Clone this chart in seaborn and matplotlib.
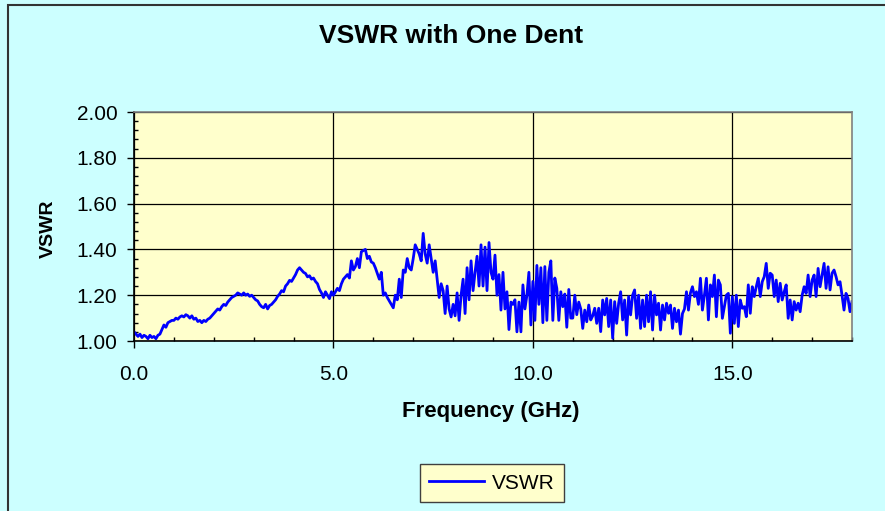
import numpy as np
import matplotlib
matplotlib.use("Agg")
import matplotlib.pyplot as plt
import seaborn as sns
from matplotlib.patches import Rectangle
from matplotlib.ticker import MultipleLocator, FormatStrFormatter

# VSWR, 0.05 GHz steps, one row per GHz
vswr_0_3 = [
    1.04, 1.03, 1.02, 1.03, 1.015, 1.025, 1.02, 1.01, 1.025, 1.015, 1.02, 1.01, 1.025, 1.03, 1.05, 1.07, 1.06, 1.08, 1.085, 1.09,
    1.09, 1.10, 1.095, 1.105, 1.11, 1.105, 1.115, 1.11, 1.10, 1.11, 1.095, 1.10, 1.085, 1.09, 1.08, 1.09, 1.085, 1.095, 1.10, 1.11,
    1.12, 1.13, 1.14, 1.135, 1.15, 1.16, 1.155, 1.17, 1.18, 1.19, 1.195, 1.20, 1.21, 1.205, 1.20, 1.21, 1.20, 1.205, 1.195, 1.20,
]
vswr_3_6 = [
    1.19, 1.18, 1.175, 1.16, 1.15, 1.145, 1.16, 1.14, 1.155, 1.16, 1.17, 1.18, 1.195, 1.205, 1.22, 1.215, 1.24, 1.25, 1.265, 1.26,
    1.275, 1.29, 1.31, 1.32, 1.31, 1.30, 1.295, 1.28, 1.285, 1.27, 1.275, 1.26, 1.25, 1.225, 1.21, 1.19, 1.215, 1.20, 1.185, 1.215,
    1.20, 1.215, 1.23, 1.22, 1.25, 1.27, 1.28, 1.29, 1.275, 1.35, 1.31, 1.325, 1.36, 1.32, 1.39, 1.395, 1.40, 1.36, 1.37, 1.345,
]
vswr_6_9 = [
    1.34, 1.32, 1.295, 1.27, 1.30, 1.20, 1.21, 1.19, 1.175, 1.16, 1.145, 1.20, 1.18, 1.27, 1.19, 1.31, 1.30, 1.36, 1.32, 1.31,
    1.36, 1.42, 1.40, 1.38, 1.35, 1.47, 1.38, 1.34, 1.42, 1.36, 1.30, 1.35, 1.27, 1.19, 1.25, 1.22, 1.12, 1.24, 1.14, 1.105,
    1.16, 1.11, 1.21, 1.09, 1.20, 1.27, 1.12, 1.32, 1.18, 1.35, 1.22, 1.30, 1.37, 1.24, 1.42, 1.24, 1.41, 1.22, 1.43, 1.30,
]
vswr_9_12 = [
    1.27, 1.375, 1.20, 1.29, 1.135, 1.30, 1.14, 1.215, 1.05, 1.17, 1.16, 1.18, 1.04, 1.17, 1.04, 1.245, 1.14, 1.20, 1.30, 1.07,
    1.26, 1.09, 1.33, 1.16, 1.32, 1.08, 1.325, 1.09, 1.30, 1.35, 1.09, 1.275, 1.23, 1.09, 1.215, 1.15, 1.205, 1.06, 1.225, 1.10,
    1.10, 1.20, 1.115, 1.17, 1.14, 1.055, 1.135, 1.084, 1.157, 1.092, 1.11, 1.143, 1.077, 1.143, 1.041, 1.179, 1.114, 1.186, 1.063, 1.179,
]
vswr_12_15 = [
    1.012, 1.172, 1.077, 1.165, 1.215, 1.092, 1.179, 1.026, 1.194, 1.114, 1.20, 1.223, 1.099, 1.20, 1.055, 1.179, 1.063, 1.20, 1.084, 1.215,
    1.048, 1.20, 1.114, 1.165, 1.048, 1.157, 1.092, 1.165, 1.121, 1.157, 1.055, 1.143, 1.084, 1.135, 1.03, 1.12, 1.14, 1.215, 1.135, 1.21,
    1.237, 1.194, 1.215, 1.16, 1.274, 1.135, 1.20, 1.274, 1.092, 1.245, 1.194, 1.288, 1.106, 1.266, 1.245, 1.099, 1.15, 1.20, 1.208, 1.034,
]
vswr_15_18 = [
    1.194, 1.077, 1.20, 1.063, 1.179, 1.143, 1.15, 1.106, 1.245, 1.121, 1.237, 1.194, 1.237, 1.274, 1.194, 1.259, 1.281, 1.339, 1.23, 1.296,
    1.288, 1.194, 1.266, 1.172, 1.252, 1.179, 1.215, 1.245, 1.099, 1.179, 1.092, 1.172, 1.135, 1.165, 1.128, 1.20, 1.237, 1.208, 1.288, 1.194,
    1.266, 1.288, 1.194, 1.317, 1.237, 1.288, 1.339, 1.23, 1.324, 1.223, 1.296, 1.31, 1.281, 1.245, 1.259, 1.20, 1.135, 1.208, 1.186, 1.128,
    1.172,
]

vswr = vswr_0_3 + vswr_3_6 + vswr_6_9 + vswr_9_12 + vswr_12_15 + vswr_15_18
freq = np.linspace(0, 18, len(vswr))

x_ticks = [0, 5, 10, 15]
y_ticks = [1.0, 1.2, 1.4, 1.6, 1.8, 2.0]

plt.rcParams['font.family'] = ['Liberation Sans', 'DejaVu Sans']

fig = plt.figure(figsize=(8.85, 5.11), dpi=100)
fig.patch.set_facecolor('#CCFFFF')
ax = fig.add_axes([134 / 885, 1 - 341 / 511, 718 / 885, 229 / 511])
ax.set_facecolor('#FFFFCC')

sns.lineplot(x=freq, y=vswr, ax=ax, color='#0000FF', linewidth=2.0, label='VSWR', legend=False)

ax.set_xlim(0, 18)
ax.set_ylim(1.0, 2.0)
ax.set_xticks(x_ticks)
ax.set_yticks(y_ticks)
ax.xaxis.set_major_formatter(FormatStrFormatter('%.1f'))
ax.yaxis.set_major_formatter(FormatStrFormatter('%.2f'))
ax.xaxis.set_minor_locator(MultipleLocator(1))
ax.yaxis.set_minor_locator(MultipleLocator(0.04))
ax.grid(True, which='major', color='black', linewidth=0.9)
ax.set_axisbelow(True)

ax.tick_params(axis='both', which='major', direction='out', length=5, width=1, labelsize=15, color='black')
ax.tick_params(axis='x', which='major', pad=12)
ax.tick_params(axis='y', which='major', pad=7)
ax.tick_params(axis='both', which='minor', direction='in', length=3, width=1, color='black')

for side in ['left', 'bottom']:
    ax.spines[side].set_color('black')
    ax.spines[side].set_linewidth(1.2)
for side in ['top', 'right']:
    ax.spines[side].set_color('#808080')
    ax.spines[side].set_linewidth(1.2)

ax.set_xlabel('Frequency (GHz)', fontsize=16, fontweight='bold')
ax.set_ylabel('VSWR', fontsize=14, fontweight='bold')
ax.xaxis.set_label_coords(0.497, -0.262)
ax.yaxis.set_label_coords(-0.107, 0.49)

fig.text(0.51, 0.93, 'VSWR with One Dent', ha='center', va='center', fontsize=19, fontweight='bold')

leg = fig.legend(loc='center', bbox_to_anchor=(492 / 885, 1 - 483 / 511), fontsize=15,
                 fancybox=False, framealpha=1, edgecolor='#404040', facecolor='#FFFFCC',
                 handlelength=2.6, borderpad=0.45, handletextpad=0.4)
leg.get_frame().set_linewidth(1.0)

fig.patches.append(Rectangle((8 / 885, -0.05), 1.2, 1.05 - 5 / 511, transform=fig.transFigure,
                             fill=False, edgecolor='#333333', linewidth=1.5))

fig.savefig('out.png', dpi=100, facecolor=fig.get_facecolor())
